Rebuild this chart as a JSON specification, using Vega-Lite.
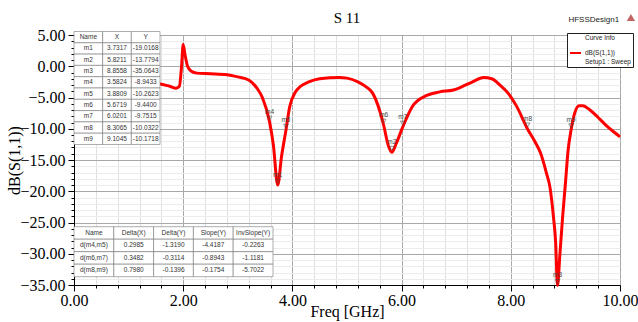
{
  "$schema": "https://vega.github.io/schema/vega-lite/v6.json",
  "width": 546,
  "height": 250,
  "autosize": {"type": "none"},
  "padding": {"left": 74, "top": 35, "right": 18, "bottom": 37},
  "background": "white",
  "title": {"text": "S 11", "font": "Liberation Serif", "fontSize": 15, "fontWeight": "normal", "color": "black", "offset": 10, "dy": 22, "anchor": "middle", "frame": "group"},
  "config": {"view": {"stroke": "black", "strokeWidth": 1}, "axis": {"labelOverlap": false}},
  "datasets": {
    "curve": [
      {"freq": 1.0, "db": -2.3, "trace": "dB(S(1,1))"},
      {"freq": 1.2, "db": -2.5, "trace": "dB(S(1,1))"},
      {"freq": 1.4, "db": -2.7, "trace": "dB(S(1,1))"},
      {"freq": 1.56, "db": -2.8, "trace": "dB(S(1,1))"},
      {"freq": 1.75, "db": -3.2, "trace": "dB(S(1,1))"},
      {"freq": 1.87, "db": -3.5, "trace": "dB(S(1,1))"},
      {"freq": 1.93, "db": -3.2, "trace": "dB(S(1,1))"},
      {"freq": 1.97, "db": 0.0, "trace": "dB(S(1,1))"},
      {"freq": 2.0, "db": 3.5, "trace": "dB(S(1,1))"},
      {"freq": 2.03, "db": 2.0, "trace": "dB(S(1,1))"},
      {"freq": 2.08, "db": 0.0, "trace": "dB(S(1,1))"},
      {"freq": 2.15, "db": -0.8, "trace": "dB(S(1,1))"},
      {"freq": 2.25, "db": -1.1, "trace": "dB(S(1,1))"},
      {"freq": 2.5, "db": -1.2, "trace": "dB(S(1,1))"},
      {"freq": 2.8, "db": -1.35, "trace": "dB(S(1,1))"},
      {"freq": 3.0, "db": -1.7, "trace": "dB(S(1,1))"},
      {"freq": 3.2, "db": -2.2, "trace": "dB(S(1,1))"},
      {"freq": 3.35, "db": -3.5, "trace": "dB(S(1,1))"},
      {"freq": 3.45, "db": -5.0, "trace": "dB(S(1,1))"},
      {"freq": 3.5824, "db": -8.9433, "trace": "dB(S(1,1))"},
      {"freq": 3.65, "db": -12.5, "trace": "dB(S(1,1))"},
      {"freq": 3.7317, "db": -19.0168, "trace": "dB(S(1,1))"},
      {"freq": 3.8, "db": -14.5, "trace": "dB(S(1,1))"},
      {"freq": 3.8809, "db": -10.2623, "trace": "dB(S(1,1))"},
      {"freq": 3.95, "db": -6.5, "trace": "dB(S(1,1))"},
      {"freq": 4.05, "db": -4.2, "trace": "dB(S(1,1))"},
      {"freq": 4.15, "db": -3.2, "trace": "dB(S(1,1))"},
      {"freq": 4.3, "db": -2.5, "trace": "dB(S(1,1))"},
      {"freq": 4.5, "db": -2.0, "trace": "dB(S(1,1))"},
      {"freq": 4.86, "db": -1.8, "trace": "dB(S(1,1))"},
      {"freq": 5.0, "db": -1.9, "trace": "dB(S(1,1))"},
      {"freq": 5.2, "db": -2.5, "trace": "dB(S(1,1))"},
      {"freq": 5.35, "db": -3.3, "trace": "dB(S(1,1))"},
      {"freq": 5.47, "db": -4.3, "trace": "dB(S(1,1))"},
      {"freq": 5.6719, "db": -9.44, "trace": "dB(S(1,1))"},
      {"freq": 5.75, "db": -12.5, "trace": "dB(S(1,1))"},
      {"freq": 5.8211, "db": -13.7794, "trace": "dB(S(1,1))"},
      {"freq": 5.9, "db": -12.4, "trace": "dB(S(1,1))"},
      {"freq": 6.0201, "db": -9.7515, "trace": "dB(S(1,1))"},
      {"freq": 6.2, "db": -6.4, "trace": "dB(S(1,1))"},
      {"freq": 6.45, "db": -4.7, "trace": "dB(S(1,1))"},
      {"freq": 6.7, "db": -4.1, "trace": "dB(S(1,1))"},
      {"freq": 6.95, "db": -3.8, "trace": "dB(S(1,1))"},
      {"freq": 7.1, "db": -3.3, "trace": "dB(S(1,1))"},
      {"freq": 7.3, "db": -2.5, "trace": "dB(S(1,1))"},
      {"freq": 7.5, "db": -1.8, "trace": "dB(S(1,1))"},
      {"freq": 7.65, "db": -2.0, "trace": "dB(S(1,1))"},
      {"freq": 7.8, "db": -3.0, "trace": "dB(S(1,1))"},
      {"freq": 7.95, "db": -4.3, "trace": "dB(S(1,1))"},
      {"freq": 8.1, "db": -6.3, "trace": "dB(S(1,1))"},
      {"freq": 8.3065, "db": -10.0322, "trace": "dB(S(1,1))"},
      {"freq": 8.45, "db": -12.2, "trace": "dB(S(1,1))"},
      {"freq": 8.55, "db": -14.0, "trace": "dB(S(1,1))"},
      {"freq": 8.65, "db": -17.0, "trace": "dB(S(1,1))"},
      {"freq": 8.72, "db": -19.5, "trace": "dB(S(1,1))"},
      {"freq": 8.78, "db": -24.0, "trace": "dB(S(1,1))"},
      {"freq": 8.82, "db": -28.0, "trace": "dB(S(1,1))"},
      {"freq": 8.8558, "db": -35.0643, "trace": "dB(S(1,1))"},
      {"freq": 8.9, "db": -30.0, "trace": "dB(S(1,1))"},
      {"freq": 8.95, "db": -24.0, "trace": "dB(S(1,1))"},
      {"freq": 9.0, "db": -18.8, "trace": "dB(S(1,1))"},
      {"freq": 9.05, "db": -13.4, "trace": "dB(S(1,1))"},
      {"freq": 9.1045, "db": -10.1718, "trace": "dB(S(1,1))"},
      {"freq": 9.17, "db": -7.5, "trace": "dB(S(1,1))"},
      {"freq": 9.25, "db": -6.3, "trace": "dB(S(1,1))"},
      {"freq": 9.32, "db": -6.3, "trace": "dB(S(1,1))"},
      {"freq": 9.45, "db": -7.0, "trace": "dB(S(1,1))"},
      {"freq": 9.6, "db": -8.2, "trace": "dB(S(1,1))"},
      {"freq": 9.75, "db": -9.5, "trace": "dB(S(1,1))"},
      {"freq": 9.9, "db": -10.6, "trace": "dB(S(1,1))"},
      {"freq": 10.0, "db": -11.3, "trace": "dB(S(1,1))"}
    ],
    "markers": [
      {"name": "m1", "X": 3.7317, "Y": -19.0168},
      {"name": "m2", "X": 5.8211, "Y": -13.7794},
      {"name": "m3", "X": 8.8558, "Y": -35.0643},
      {"name": "m4", "X": 3.5824, "Y": -8.9433},
      {"name": "m5", "X": 3.8809, "Y": -10.2623},
      {"name": "m6", "X": 5.6719, "Y": -9.44},
      {"name": "m7", "X": 6.0201, "Y": -9.7515},
      {"name": "m8", "X": 8.3065, "Y": -10.0322},
      {"name": "m9", "X": 9.1045, "Y": -10.1718}
    ],
    "mtable": [
      {"r": "Name", "c": "Name", "t": "Name"}, {"r": "Name", "c": "X", "t": "X"}, {"r": "Name", "c": "Y", "t": "Y"},
      {"r": "m1", "c": "Name", "t": "m1"}, {"r": "m1", "c": "X", "t": "3.7317"}, {"r": "m1", "c": "Y", "t": "-19.0168"},
      {"r": "m2", "c": "Name", "t": "m2"}, {"r": "m2", "c": "X", "t": "5.8211"}, {"r": "m2", "c": "Y", "t": "-13.7794"},
      {"r": "m3", "c": "Name", "t": "m3"}, {"r": "m3", "c": "X", "t": "8.8558"}, {"r": "m3", "c": "Y", "t": "-35.0643"},
      {"r": "m4", "c": "Name", "t": "m4"}, {"r": "m4", "c": "X", "t": "3.5824"}, {"r": "m4", "c": "Y", "t": "-8.9433"},
      {"r": "m5", "c": "Name", "t": "m5"}, {"r": "m5", "c": "X", "t": "3.8809"}, {"r": "m5", "c": "Y", "t": "-10.2623"},
      {"r": "m6", "c": "Name", "t": "m6"}, {"r": "m6", "c": "X", "t": "5.6719"}, {"r": "m6", "c": "Y", "t": "-9.4400"},
      {"r": "m7", "c": "Name", "t": "m7"}, {"r": "m7", "c": "X", "t": "6.0201"}, {"r": "m7", "c": "Y", "t": "-9.7515"},
      {"r": "m8", "c": "Name", "t": "m8"}, {"r": "m8", "c": "X", "t": "8.3065"}, {"r": "m8", "c": "Y", "t": "-10.0322"},
      {"r": "m9", "c": "Name", "t": "m9"}, {"r": "m9", "c": "X", "t": "9.1045"}, {"r": "m9", "c": "Y", "t": "-10.1718"}
    ],
    "dtable": [
      {"r": "h", "c": "Name", "t": "Name"}, {"r": "h", "c": "Delta(X)", "t": "Delta(X)"}, {"r": "h", "c": "Delta(Y)", "t": "Delta(Y)"}, {"r": "h", "c": "Slope(Y)", "t": "Slope(Y)"}, {"r": "h", "c": "InvSlope(Y)", "t": "InvSlope(Y)"},
      {"r": "a", "c": "Name", "t": "d(m4,m5)"}, {"r": "a", "c": "Delta(X)", "t": "0.2985"}, {"r": "a", "c": "Delta(Y)", "t": "-1.3190"}, {"r": "a", "c": "Slope(Y)", "t": "-4.4187"}, {"r": "a", "c": "InvSlope(Y)", "t": "-0.2263"},
      {"r": "b", "c": "Name", "t": "d(m6,m7)"}, {"r": "b", "c": "Delta(X)", "t": "0.3482"}, {"r": "b", "c": "Delta(Y)", "t": "-0.3114"}, {"r": "b", "c": "Slope(Y)", "t": "-0.8943"}, {"r": "b", "c": "InvSlope(Y)", "t": "-1.1181"},
      {"r": "c", "c": "Name", "t": "d(m8,m9)"}, {"r": "c", "c": "Delta(X)", "t": "0.7980"}, {"r": "c", "c": "Delta(Y)", "t": "-0.1396"}, {"r": "c", "c": "Slope(Y)", "t": "-0.1754"}, {"r": "c", "c": "InvSlope(Y)", "t": "-5.7022"}
    ]
  },
  "layer": [
    {
      "layer": [
        {
          "data": {"name": "curve"},
          "mark": {"type": "line", "interpolate": "monotone", "strokeWidth": 3},
          "encoding": {
            "x": {
              "field": "freq", "type": "quantitative",
              "scale": {"domain": [0, 10], "nice": false, "zero": false},
              "axis": {
                "orient": "bottom",
                "title": "Freq [GHz]",
                "values": [0, 2, 4, 6, 8, 10],
                "format": ".2f",
                "labelFont": "Liberation Serif", "labelFontSize": 16, "labelColor": "black",
                "labelOverlap": false, "labelFlush": false, "labelPadding": 1,
                "tickColor": "black", "tickSize": 6,
                "domainColor": "black",
                "grid": true, "gridColor": "#a8a8a8",
                "titleFont": "Liberation Serif", "titleFontSize": 16, "titleFontWeight": "normal", "titleColor": "black",
                "titlePadding": -5
              }
            },
            "y": {
              "field": "db", "type": "quantitative",
              "scale": {"domain": [-35, 5], "nice": false, "zero": false},
              "axis": {
                "orient": "left",
                "title": "dB(S(1,1))",
                "values": [-35, -30, -25, -20, -15, -10, -5, 0, 5],
                "format": ".2f",
                "labelFont": "Liberation Serif", "labelFontSize": 16, "labelColor": "black",
                "labelOverlap": false, "labelFlush": false, "labelPadding": 3,
                "tickColor": "black", "tickSize": 6,
                "domainColor": "black",
                "grid": true, "gridColor": "#a8a8a8",
                "titleFont": "Liberation Serif", "titleFontSize": 16, "titleFontWeight": "normal", "titleColor": "black",
                "titlePadding": -3
              }
            },
            "color": {
              "field": "trace", "type": "nominal",
              "scale": {"range": ["#ff0000"]},
              "legend": {
                "title": "Curve Info", "orient": "none", "legendX": 493, "legendY": -2,
                "fillColor": "white", "strokeColor": "#222", "padding": 2,
                "titleFont": "Liberation Sans", "titleFontSize": 6.5, "titleFontWeight": "normal", "titleColor": "#222", "titleAnchor": "middle",
                "labelFont": "Liberation Sans", "labelFontSize": 6.5, "labelColor": "#222", "labelOffset": 3,
                "symbolType": "stroke", "symbolStrokeWidth": 2, "symbolSize": 120,
                "labelExpr": "['dB(S(1,1))', 'Setup1 : Sweep']"
              }
            }
          }
        },
        {
          "data": {"name": "markers"},
          "mark": {"type": "point", "shape": "triangle-down", "filled": false, "stroke": "#444", "strokeWidth": 0.8, "size": 22, "yOffset": -4},
          "encoding": {
            "x": {
              "field": "X", "type": "quantitative",
              "axis": {
                "orient": "bottom", "title": null, "labels": false, "domain": false,
                "values": [0.4, 0.8, 1.2, 1.6, 2.4, 2.8, 3.2, 3.6, 4.4, 4.8, 5.2, 5.6, 6.4, 6.8, 7.2, 7.6, 8.4, 8.8, 9.2, 9.6],
                "tickColor": "black", "tickSize": 3,
                "grid": true, "gridColor": "#e0e0e0"
              }
            },
            "y": {
              "field": "Y", "type": "quantitative",
              "axis": {
                "orient": "left", "title": null, "labels": false, "domain": false,
                "values": [-34, -33, -32, -31, -29, -28, -27, -26, -24, -23, -22, -21, -19, -18, -17, -16, -14, -13, -12, -11, -9, -8, -7, -6, -4, -3, -2, -1, 1, 2, 3, 4],
                "tickColor": "black", "tickSize": 3,
                "grid": true, "gridColor": "#ececec"
              }
            }
          }
        },
        {
          "data": {"name": "markers"},
          "mark": {"type": "text", "font": "Liberation Sans", "fontSize": 6.5, "color": "#444", "yOffset": -10},
          "encoding": {
            "x": {"field": "X", "type": "quantitative", "axis": null},
            "y": {"field": "Y", "type": "quantitative", "axis": null},
            "text": {"field": "name"}
          }
        },
        {
          "data": {"values": [{"label": "HFSSDesign1"}]},
          "mark": {"type": "text", "font": "Liberation Sans", "fontSize": 8, "color": "#222"},
          "encoding": {
            "x": {"datum": 9.52, "type": "quantitative", "axis": null},
            "y": {"datum": 7.4, "type": "quantitative", "axis": null},
            "text": {"field": "label"}
          }
        },
        {
          "data": {"values": [{"label": "ANSOFT"}]},
          "mark": {"type": "point", "shape": "triangle-up", "filled": true, "color": "#b84a4a", "size": 70, "opacity": 0.85},
          "encoding": {
            "x": {"datum": 10.2, "type": "quantitative", "axis": null},
            "y": {"datum": 7.8, "type": "quantitative", "axis": null}
          }
        }
      ],
      "resolve": {"axis": {"x": "independent", "y": "independent"}}
    },
    {
      "data": {"name": "mtable"},
      "layer": [
        {
          "mark": {"type": "rect", "fill": "white", "stroke": "#777", "strokeWidth": 0.6},
          "encoding": {
            "x": {"field": "c", "type": "nominal", "sort": ["Name", "X", "Y"], "scale": {"type": "band", "range": [0, 86], "paddingInner": 0, "paddingOuter": 0}, "axis": null},
            "y": {"field": "r", "type": "nominal", "sort": ["Name", "m1", "m2", "m3", "m4", "m5", "m6", "m7", "m8", "m9"], "scale": {"type": "band", "range": [-3.5, 109.5], "paddingInner": 0, "paddingOuter": 0}, "axis": null}
          }
        },
        {
          "mark": {"type": "text", "font": "Liberation Sans", "fontSize": 6.5, "color": "#333"},
          "encoding": {
            "x": {"field": "c", "type": "nominal", "sort": ["Name", "X", "Y"], "axis": null},
            "y": {"field": "r", "type": "nominal", "sort": ["Name", "m1", "m2", "m3", "m4", "m5", "m6", "m7", "m8", "m9"], "axis": null},
            "text": {"field": "t"}
          }
        }
      ]
    },
    {
      "data": {"name": "dtable"},
      "layer": [
        {
          "mark": {"type": "rect", "fill": "white", "stroke": "#777", "strokeWidth": 0.6},
          "encoding": {
            "x": {"field": "c", "type": "nominal", "sort": ["Name", "Delta(X)", "Delta(Y)", "Slope(Y)", "InvSlope(Y)"], "scale": {"type": "band", "range": [0, 199], "paddingInner": 0, "paddingOuter": 0}, "axis": null},
            "y": {"field": "r", "type": "nominal", "sort": ["h", "a", "b", "c"], "scale": {"type": "band", "range": [191.7, 241.7], "paddingInner": 0, "paddingOuter": 0}, "axis": null}
          }
        },
        {
          "mark": {"type": "text", "font": "Liberation Sans", "fontSize": 6.5, "color": "#333"},
          "encoding": {
            "x": {"field": "c", "type": "nominal", "sort": ["Name", "Delta(X)", "Delta(Y)", "Slope(Y)", "InvSlope(Y)"], "axis": null},
            "y": {"field": "r", "type": "nominal", "sort": ["h", "a", "b", "c"], "axis": null},
            "text": {"field": "t"}
          }
        }
      ]
    }
  ],
  "resolve": {"scale": {"x": "independent", "y": "independent"}}
}
